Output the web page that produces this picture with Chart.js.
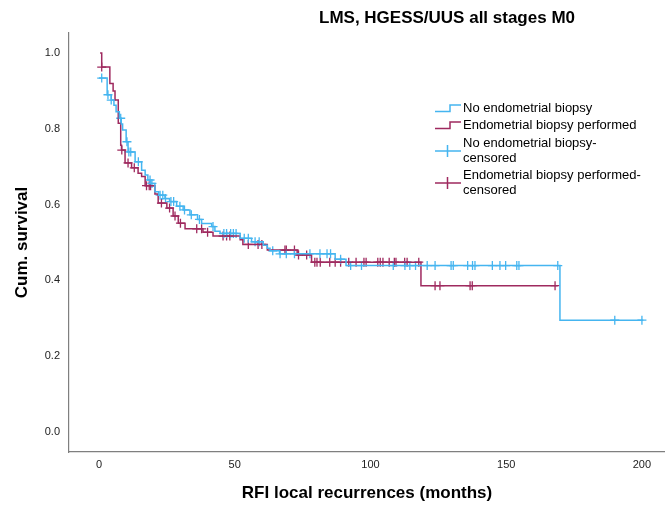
<!DOCTYPE html>
<html>
<head>
<meta charset="utf-8">
<script src="https://cdn.jsdelivr.net/npm/chart.js@4.4.1/dist/chart.umd.min.js"></script>
<style>
  html, body { margin: 0; padding: 0; background: #fff; }
  #wrap { position: relative; width: 665px; height: 505px; }
</style>
</head>
<body>
<div id="wrap"><canvas id="km"></canvas></div>
<script>
// Kaplan-Meier steps: time (months) -> cum. survival after that time
const noBiopsyTimes = [0, 3.0, 4.5, 5.5, 6.3, 7.5, 8.2, 8.7, 10.0, 10.7, 13.3, 15.7, 17.0, 18.0, 19.0, 20.6, 22.0, 24.3, 26.0, 28.6, 31.0, 33.5, 36.3, 37.8, 41.5, 42.7, 44.6, 52.0, 56.2, 60.5, 62.0, 63.0, 66.5, 87.0, 91.0, 169.8, 200.5];
const noBiopsySurv = [0.934, 0.89, 0.876, 0.862, 0.845, 0.828, 0.813, 0.797, 0.766, 0.739, 0.713, 0.691, 0.678, 0.665, 0.656, 0.634, 0.625, 0.616, 0.608, 0.596, 0.586, 0.573, 0.561, 0.550, 0.542, 0.530, 0.524, 0.511, 0.502, 0.493, 0.485, 0.478, 0.470, 0.456, 0.439, 0.295, 0.295];
const noBiopsyCensored = [1, 3.3, 4.5, 8, 10.3, 11, 11.7, 14.5, 18.8, 19.5, 22.5, 23.5, 24.5, 26.5, 27.5, 29.8, 31.5, 34, 37, 42, 46, 47, 48.5, 49.5, 50.5, 53.5, 55, 57.5, 59, 64, 66.7, 69, 72, 77.7, 81.4, 84, 85.3, 89, 92.7, 96.7, 108.4, 112.7, 114.5, 116.6, 120.9, 123.8, 129.7, 130.5, 135.8, 137.6, 138.5, 144.9, 147.7, 149.8, 153.9, 154.7, 169, 190, 200];

const biopsyTimes = [0.4, 1, 4, 5.2, 5.9, 7.1, 8.0, 8.3, 9.6, 12, 14.4, 15.7, 17, 20.6, 21.8, 25, 27.3, 29.2, 31.7, 38.3, 42, 52, 53, 62, 73, 78.3, 118.6, 169];
const biopsySurv = [1.0, 0.963, 0.92, 0.90, 0.876, 0.815, 0.757, 0.744, 0.71, 0.697, 0.683, 0.674, 0.65, 0.628, 0.604, 0.591, 0.57, 0.551, 0.536, 0.527, 0.517, 0.507, 0.495, 0.48, 0.467, 0.448, 0.386, 0.386];
const biopsyCensored = [1, 8.4, 10.7, 13, 17.5, 18.5, 19, 23, 26, 28, 30, 36, 37.8, 40, 45.7, 47, 48.2, 55, 58.6, 60, 68.5, 69, 72, 73.5, 76.5, 79.5, 80.3, 81.5, 85, 87, 89, 92, 94.7, 97.6, 98.4, 102.7, 103.6, 104.6, 106.9, 108.8, 109.4, 112.6, 113.5, 117.8, 123.8, 125.6, 136.7, 137.5, 168];

const xTicks = [0, 50, 100, 150, 200];
const yTicks = [0, 0.2, 0.4, 0.6, 0.8, 1.0];
const legendLabels = [
  ['No endometrial biopsy'],
  ['Endometrial biopsy performed'],
  ['No endometrial biopsy-', 'censored'],
  ['Endometrial biopsy performed-', 'censored'],
];

const BLUE = '#45b5f0';
const MAROON = '#9f2a5f';
const FONT = "'Liberation Sans', Arial, sans-serif";

function survivalAt(times, surv, t) {
  let s = surv[0];
  for (let i = 0; i < times.length; i++) {
    if (times[i] <= t) s = surv[i];
  }
  return s;
}

const toPoints = (times, surv) => times.map((t, i) => ({ x: t, y: surv[i] }));
const censorPoints = (cens, times, surv) => cens.map((t) => ({ x: t, y: survivalAt(times, surv, t) }));

// title and legend are drawn on the canvas at fixed spots, like the SPSS output
const extrasPlugin = {
  id: 'kmExtras',
  afterDraw(chart) {
    const ctx = chart.ctx;
    ctx.save();
    ctx.fillStyle = '#000';
    ctx.textBaseline = 'middle';
    ctx.textAlign = 'center';
    ctx.font = `bold 17px ${FONT}`;
    ctx.fillText('LMS, HGESS/UUS all stages M0', 447, 18);

    ctx.textAlign = 'left';
    ctx.font = `13px ${FONT}`;
    const rows = [108, 125, 143, 175];
    const colors = [BLUE, MAROON, BLUE, MAROON];
    legendLabels.forEach((lines, i) => {
      const y = rows[i];
      ctx.strokeStyle = colors[i];
      ctx.lineWidth = 1.5;
      ctx.beginPath();
      if (i < 2) {
        ctx.moveTo(435, y + 3.5);
        ctx.lineTo(450, y + 3.5);
        ctx.lineTo(450, y - 3);
        ctx.lineTo(461, y - 3);
      } else {
        const cy = y + 8;
        ctx.moveTo(435, cy);
        ctx.lineTo(461, cy);
        ctx.moveTo(447.5, cy - 6);
        ctx.lineTo(447.5, cy + 6);
      }
      ctx.stroke();
      lines.forEach((txt, j) => ctx.fillText(txt, 463, y + j * 15));
    });
    ctx.restore();
  },
};

new Chart(document.getElementById('km'), {
  type: 'line',
  data: {
    datasets: [
      {
        label: 'No endometrial biopsy',
        data: toPoints(noBiopsyTimes, noBiopsySurv),
        borderColor: BLUE,
        borderWidth: 1.5,
        stepped: true,
        pointRadius: 0,
        fill: false,
      },
      {
        label: 'Endometrial biopsy performed',
        data: toPoints(biopsyTimes, biopsySurv),
        borderColor: MAROON,
        borderWidth: 1.5,
        stepped: true,
        pointRadius: 0,
        fill: false,
      },
      {
        label: 'No endometrial biopsy-censored',
        data: censorPoints(noBiopsyCensored, noBiopsyTimes, noBiopsySurv),
        showLine: false,
        pointStyle: 'cross',
        pointRadius: 4.5,
        pointBorderWidth: 1.3,
        pointBorderColor: BLUE,
      },
      {
        label: 'Endometrial biopsy performed-censored',
        data: censorPoints(biopsyCensored, biopsyTimes, biopsySurv),
        showLine: false,
        pointStyle: 'cross',
        pointRadius: 4.5,
        pointBorderWidth: 1.3,
        pointBorderColor: MAROON,
      },
    ],
  },
  options: {
    responsive: true,
    maintainAspectRatio: false,
    animation: false,
    events: [],
    layout: { autoPadding: false, padding: { top: 33, left: 0, right: 0, bottom: 0 } },
    plugins: {
      legend: { display: false },
      title: { display: false },
      tooltip: { enabled: false },
    },
    scales: {
      x: {
        type: 'linear',
        min: -11.05,
        max: 208.5,
        grid: { display: false, drawTicks: false },
        border: { display: true, color: '#7f7f7f', width: 1.2 },
        ticks: { padding: 6, color: '#222', font: { family: FONT, size: 11 } },
        afterBuildTicks: (scale) => { scale.ticks = xTicks.map((v) => ({ value: v })); },
        afterFit: (scale) => { scale.height = 53; },
        title: {
          display: true,
          text: 'RFI local recurrences (months)',
          color: '#000',
          font: { family: FONT, size: 17, weight: 'bold' },
          padding: { top: 0, bottom: 1 },
        },
      },
      y: {
        type: 'linear',
        min: -0.053,
        max: 1.053,
        grid: { display: false, drawTicks: false },
        border: { display: true, color: '#7f7f7f', width: 1.2 },
        ticks: {
          padding: 9,
          color: '#222',
          font: { family: FONT, size: 11 },
          callback: (v) => Number(v).toFixed(1),
        },
        afterBuildTicks: (scale) => { scale.ticks = yTicks.map((v) => ({ value: v })); },
        afterFit: (scale) => { scale.width = 69; },
        title: {
          display: true,
          text: 'Cum. survival',
          color: '#000',
          font: { family: FONT, size: 17, weight: 'bold' },
          padding: { top: 12, bottom: 0 },
        },
      },
    },
  },
  plugins: [extrasPlugin],
});
</script>
</body>
</html>
